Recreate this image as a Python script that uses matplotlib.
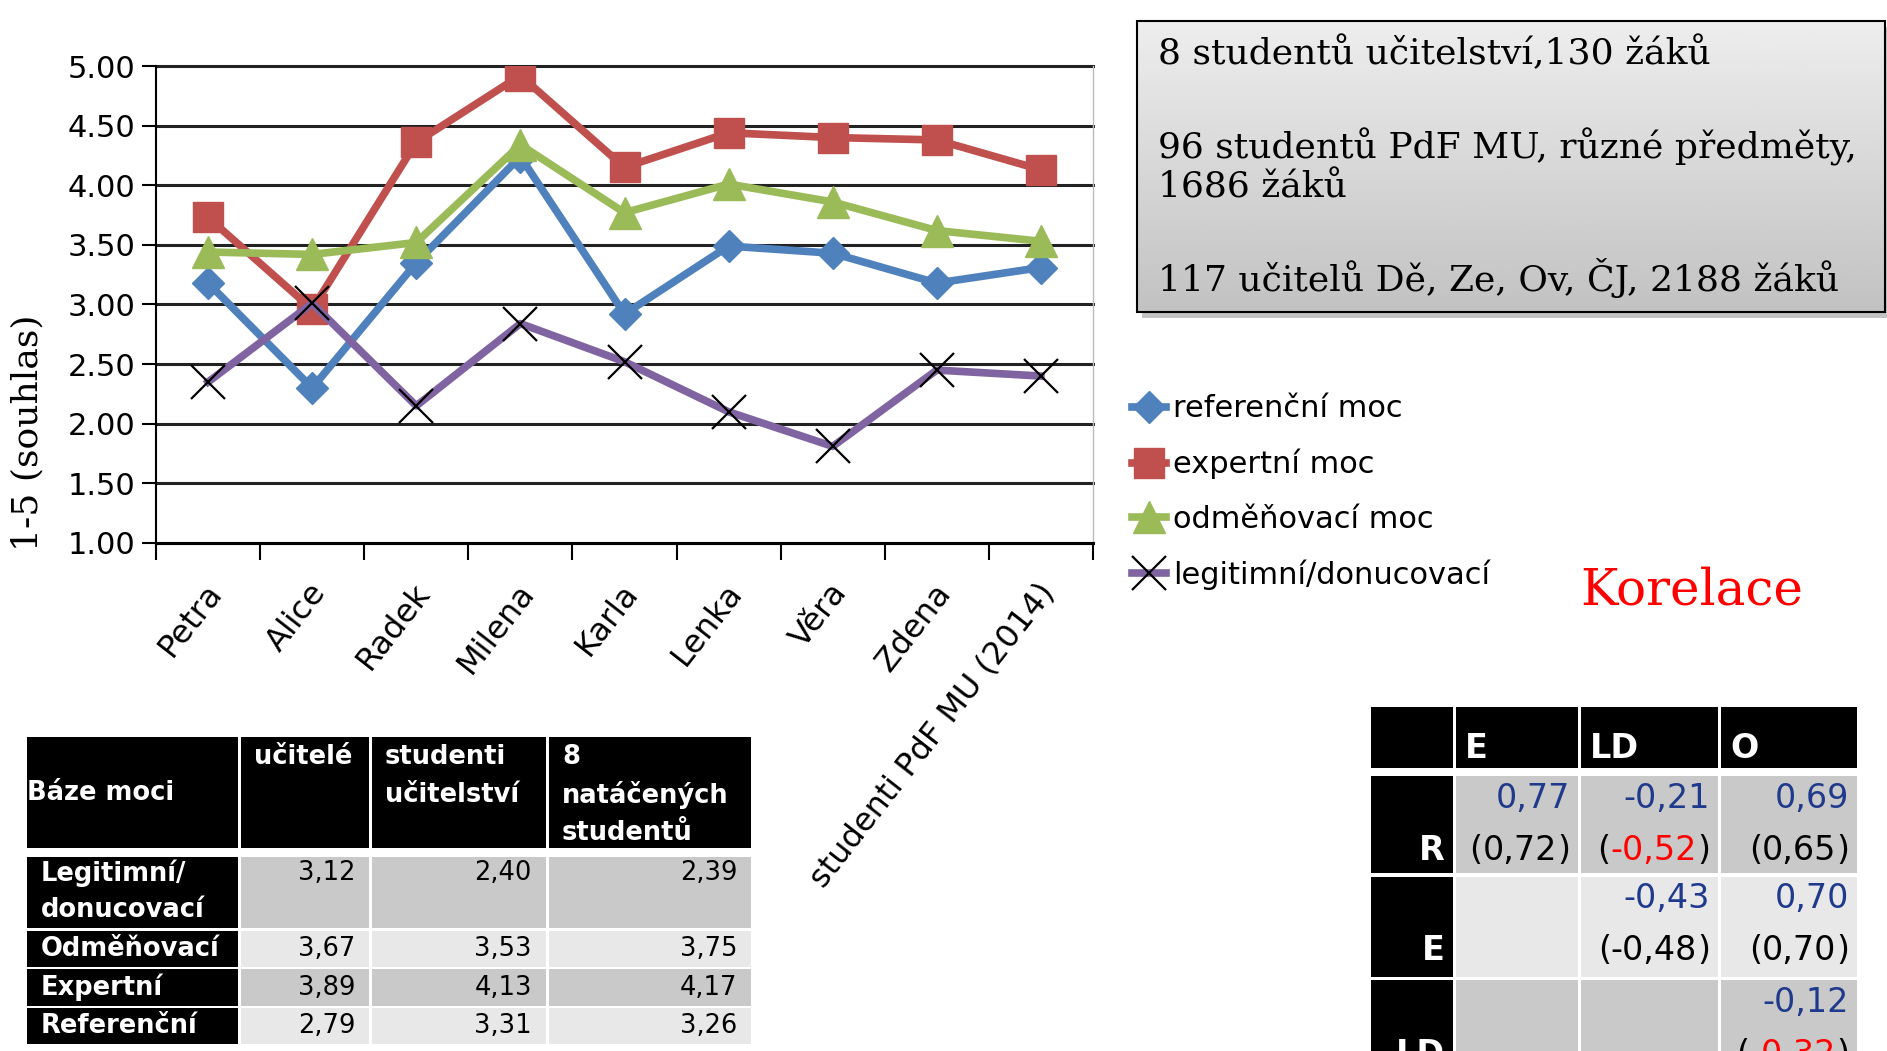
import matplotlib
matplotlib.use("Agg")
import matplotlib.pyplot as plt
import numpy as np
from matplotlib.patches import Rectangle
from matplotlib.ticker import FormatStrFormatter
from matplotlib.transforms import ScaledTranslation

# data
categories = ['Petra', 'Alice', 'Radek', 'Milena', 'Karla', 'Lenka', 'Věra', 'Zdena',
              'studenti PdF MU (2014)']
referencni = [3.18, 2.30, 3.35, 4.24, 2.92, 3.49, 3.43, 3.18, 3.31]
expertni = [3.73, 2.96, 4.36, 4.92, 4.15, 4.44, 4.40, 4.38, 4.13]
odmenovaci = [3.44, 3.42, 3.52, 4.34, 3.77, 4.01, 3.86, 3.62, 3.53]
legitimni = [2.35, 3.01, 2.15, 2.84, 2.52, 2.10, 1.81, 2.45, 2.40]
series_names = ['referenční moc', 'expertní moc', 'odměňovací moc', 'legitimní/donucovací']

box_lines = ['8 studentů učitelství,130 žáků',
             '96 studentů PdF MU, různé předměty,',
             '1686 žáků',
             '117 učitelů Dě, Ze, Ov, ČJ, 2188 žáků']

tab_header = ['Báze moci', 'učitelé', 'studenti\nučitelství', '8\nnatáčených\nstudentů']
tab_rows = ['Legitimní/\ndonucovací', 'Odměňovací', 'Expertní', 'Referenční']
tab_ucitele = [3.12, 3.67, 3.89, 2.79]
tab_studenti = [2.40, 3.53, 4.13, 3.31]
tab_natacenych = [2.39, 3.75, 4.17, 3.26]

corr_cols = ['E', 'LD', 'O']
corr_rows = ['R', 'E', 'LD']
corr_a = [[0.77, -0.21, 0.69], [None, -0.43, 0.70], [None, None, -0.12]]
corr_b = [[0.72, -0.52, 0.65], [None, -0.48, 0.70], [None, None, -0.32]]
corr_b_red = [[False, True, False], [False, False, False], [False, False, True]]


def cz(v):
    return f'{v:.2f}'.replace('.', ',')


W, H = 1887, 1051
fig = plt.figure(figsize=(W / 100, H / 100), dpi=100)

# overlay in pixel coordinates for the box and tables
ov = fig.add_axes([0, 0, 1, 1])
ov.axis('off')

# text box with gradient
grad = np.linspace(0.93, 0.76, 100).reshape(-1, 1)
ov.add_patch(Rectangle((1142, 27), 748, 291, color='#888888', alpha=0.5, lw=0))
ov.imshow(grad, extent=(1137, 1885, 312, 21), aspect='auto', cmap='gray', vmin=0, vmax=1, zorder=2)
ov.add_patch(Rectangle((1137, 21), 748, 291, fill=False, ec='black', lw=1.5, zorder=3))
for txt, yy in zip(box_lines, [53, 147, 188, 278]):
    ov.text(1158, yy, txt, family='DejaVu Serif', fontsize=26, va='center', ha='left', zorder=4)

ov.text(1580, 591, 'Korelace', family='DejaVu Serif', fontsize=36, color='red', va='center', ha='left')

# left table
lcols = [26, 240, 371, 548, 753]
lhead = (737, 848)
lrows = [(857, 928), (931, 967), (969, 1006), (1008, 1044)]
fs_l = 18.5
for i in range(4):
    ov.add_patch(Rectangle((lcols[i] + 1, lhead[0]), lcols[i + 1] - lcols[i] - 3, lhead[1] - lhead[0],
                           color='black', lw=0))
ov.text(lcols[0] + 1, (lhead[0] + lhead[1]) / 2, tab_header[0], color='white', fontsize=fs_l,
        fontweight='bold', va='center', ha='left')
for i in range(1, 4):
    for k, line in enumerate(tab_header[i].split('\n')):
        ov.text(lcols[i] + 14, 757 + 38 * k, line, color='white', fontsize=fs_l,
                fontweight='bold', va='center', ha='left')
cols_vals = [tab_ucitele, tab_studenti, tab_natacenych]
for r, (y0, y1) in enumerate(lrows):
    bg = '#C9C9C9' if r % 2 == 0 else '#E8E8E8'
    ov.add_patch(Rectangle((lcols[0] + 1, y0), lcols[1] - lcols[0] - 3, y1 - y0, color='black', lw=0))
    for c in range(3):
        ov.add_patch(Rectangle((lcols[c + 1] + 1, y0), lcols[c + 2] - lcols[c + 1] - 3, y1 - y0,
                               color=bg, lw=0))
    lines = tab_rows[r].split('\n')
    ytop = y0 + 16 if len(lines) > 1 else (y0 + y1) / 2
    for k, line in enumerate(lines):
        ov.text(lcols[0] + 15, ytop + 37 * k, line, color='white', fontsize=fs_l,
                fontweight='bold', va='center', ha='left')
    for c in range(3):
        ov.text(lcols[c + 2] - 16, ytop, cz(cols_vals[c][r]), fontsize=fs_l, va='center', ha='right')

# correlation table
rcols = [1370, 1455, 1580, 1720, 1859]
rhead = (707, 768)
rrows = [(776, 873), (877, 977), (980, 1080)]
fs_r = 24
navy = '#1F3A8C'
for i in range(4):
    ov.add_patch(Rectangle((rcols[i] + 1, rhead[0]), rcols[i + 1] - rcols[i] - 3, rhead[1] - rhead[0],
                           color='black', lw=0))
for i, lab in enumerate(corr_cols):
    ov.text(rcols[i + 1] + 10, 749, lab, color='white', fontsize=fs_r, fontweight='bold',
            va='center', ha='left')

renderer = fig.canvas.get_renderer()
for r, (y0, y1) in enumerate(rrows):
    bg = '#C9C9C9' if r % 2 == 0 else '#E8E8E8'
    ov.add_patch(Rectangle((rcols[0] + 1, y0), rcols[1] - rcols[0] - 3, y1 - y0, color='black', lw=0))
    ov.text(rcols[1] - 10, y0 + 74, corr_rows[r], color='white', fontsize=fs_r, fontweight='bold',
            va='center', ha='right')
    for c in range(3):
        ov.add_patch(Rectangle((rcols[c + 1] + 1, y0), rcols[c + 2] - rcols[c + 1] - 3, y1 - y0,
                               color=bg, lw=0))
        if corr_a[r][c] is None:
            continue
        xr = rcols[c + 2] - 10
        ov.text(xr, y0 + 22, cz(corr_a[r][c]), color=navy, fontsize=fs_r, va='center', ha='right')
        t = ov.text(xr, y0 + 74, ')', fontsize=fs_r, va='center', ha='right')
        w1 = t.get_window_extent(renderer).width
        t = ov.text(xr - w1, y0 + 74, cz(corr_b[r][c]), fontsize=fs_r, va='center', ha='right',
                    color='red' if corr_b_red[r][c] else 'black')
        w2 = t.get_window_extent(renderer).width
        ov.text(xr - w1 - w2, y0 + 74, '(', fontsize=fs_r, va='center', ha='right')

ov.set_xlim(0, W)
ov.set_ylim(H, 0)

# line chart
ax = fig.add_axes([156 / W, 1 - 543 / H, (1093 - 156) / W, (543 - 66) / H])
ax.set_facecolor('none')
x = np.arange(len(categories))
ax.plot(x, referencni, color='#4F81BD', lw=5.5, marker='D', ms=16, label=series_names[0], zorder=3)
ax.plot(x, expertni, color='#C0504D', lw=5.5, marker='s', ms=22, label=series_names[1], zorder=4)
ax.plot(x, odmenovaci, color='#9BBB59', lw=5.5, marker='^', ms=23, label=series_names[2], zorder=5)
ax.plot(x, legitimni, color='#8064A2', lw=5.5, marker='x', ms=24, mec='black', mew=1.6,
        label=series_names[3], zorder=6)

ax.set_xlim(-0.5, len(categories) - 0.5)
ax.set_ylim(1, 5)
ax.set_yticks(np.arange(1, 5.01, 0.5))
ax.yaxis.set_major_formatter(FormatStrFormatter('%.2f'))
ax.tick_params(axis='y', length=10, width=1.5, pad=5, labelsize=22)
ax.set_xticks(x)
ax.set_xticklabels(categories, rotation=52, ha='right', va='center', rotation_mode='anchor', fontsize=23)
ax.set_xticks(np.arange(-0.5, len(categories)), minor=True)
ax.tick_params(axis='x', which='major', length=0, pad=32)
ax.tick_params(axis='x', which='minor', length=12, width=1.5)
for lab in ax.get_xticklabels():
    lab.set_transform(lab.get_transform() + ScaledTranslation(6 / 72, 0, fig.dpi_scale_trans))
ax.grid(axis='y', color='#222222', lw=2.2)
for gl in ax.get_ygridlines():
    gl.set_clip_on(False)
ax.set_axisbelow(True)
ax.spines['top'].set_visible(False)
ax.spines['right'].set_color('#bbbbbb')
ax.spines['right'].set_linewidth(1)
ax.spines['left'].set_linewidth(1.5)
ax.spines['bottom'].set_linewidth(2.2)

fig.text(27 / W, 1 - 433 / H, '1-5 (souhlas)', family='DejaVu Serif', fontsize=26,
         rotation=90, va='center', ha='center')

handles, labels = ax.get_legend_handles_labels()
fig.legend(handles, labels, loc='center left', bbox_to_anchor=(1132 / W, 1 - 492 / H),
           frameon=False, fontsize=22, handlelength=1.1, handletextpad=0.25,
           labelspacing=0.83, borderpad=0, borderaxespad=0)

fig.savefig('out.png', dpi=100)
